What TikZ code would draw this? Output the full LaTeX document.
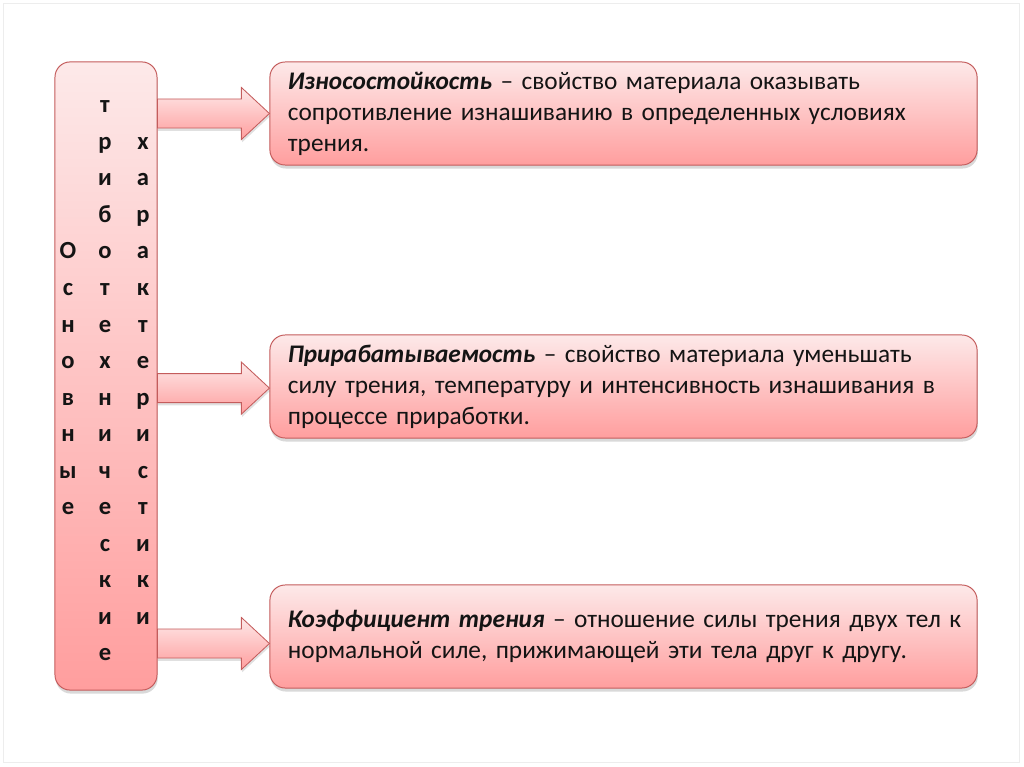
\documentclass[tikz,border=0pt]{standalone}
\usepackage{fontspec}
\setmainfont{Carlito}
\usetikzlibrary{positioning,calc,shadows}

\definecolor{pinktop}{RGB}{253,233,233}
\definecolor{pinkbot}{RGB}{255,158,158}
\definecolor{pinkline}{RGB}{196,92,92}
\definecolor{inktext}{RGB}{20,20,20}

\newcommand{\boxfont}{\fontsize{18}{22}\selectfont\spaceskip 3pt plus 1pt\relax}

\newcommand{\blockarrow}[3]{%
  \path[arrowbox] let \p1=(#1.east), \p2=(#2.west) in
    (\x1,\y2+#3+0.3625cm) -- (\x2-0.7cm,\y2+#3+0.3625cm) -- (\x2-0.7cm,\y2+#3+0.65cm)
    -- (\x2,\y2+#3) -- (\x2-0.7cm,\y2+#3-0.65cm) -- (\x2-0.7cm,\y2+#3-0.3625cm)
    -- (\x1,\y2+#3-0.3625cm) -- cycle;}

\begin{document}
\begin{tikzpicture}[x=0.025cm, y=-0.025cm, text=inktext,
  pinkbox/.style={draw=pinkline, line width=0.7pt, rounded corners=0.38cm,
    top color=pinktop, bottom color=pinkbot,
    drop shadow={shadow xshift=0.5pt, shadow yshift=-2.5pt, opacity=0.25, fill=black!60}},
  infobox/.style={pinkbox, text width=16.775cm, inner xsep=0.45cm, inner ysep=0pt,
    minimum height=2.575cm, align=left, font=\boxfont},
  arrowbox/.style={draw=pinkline, line width=0.6pt, top color=pinktop, bottom color=pinkbot,
    drop shadow={shadow xshift=0.5pt, shadow yshift=-2pt, opacity=0.2, fill=black!60}},
  letter/.style={font=\fontsize{17.5}{18}\selectfont\bfseries, anchor=base, inner sep=0pt}]
  \useasboundingbox (0,0) rectangle (1024,767);
  \draw[black!7] (3,3) rectangle (1019,762);

  \node[pinkbox, minimum width=2.55cm, minimum height=15.7cm] (main) at (106,376) {};

  \node[infobox] (wear) at (623.5,113.5)
    {\textbf{\textit{Износостойкость}} – свойство материала оказывать\\
     сопротивление изнашиванию в определенных условиях\\
     трения.};
  \node[infobox] (runin) at (623.5,386.5)
    {\textbf{\textit{Прирабатываемость}} – свойство материала уменьшать\\
     силу трения, температуру и интенсивность изнашивания в\\
     процессе приработки.};
  \node[infobox] (coef) at (623.5,636.5)
    {\mbox{\textbf{\textit{Коэффициент трения}} – отношение силы трения двух тел к}\\
     нормальной силе, прижимающей эти тела друг к другу.};

  \blockarrow{main}{wear}{0cm}
  \blockarrow{main}{runin}{-0.04cm}
  \blockarrow{main}{coef}{-0.175cm}

  % vertical words
  \foreach \ch [count=\k from 4] in {О,с,н,о,в,н,ы,е}
    \node[letter] (first-\k) at (68,113+36.5*\k) {\ch};
  \foreach \ch [count=\k from 0] in {т,р,и,б,о,т,е,х,н,и,ч,е,с,к,и,е}
    \node[letter] (second-\k) at (105,113+36.5*\k) {\ch};
  \foreach \ch [count=\k from 1] in {х,а,р,а,к,т,е,р,и,с,т,и,к,и}
    \node[letter] (third-\k) at (143,113+36.5*\k) {\ch};
\end{tikzpicture}
\end{document}
